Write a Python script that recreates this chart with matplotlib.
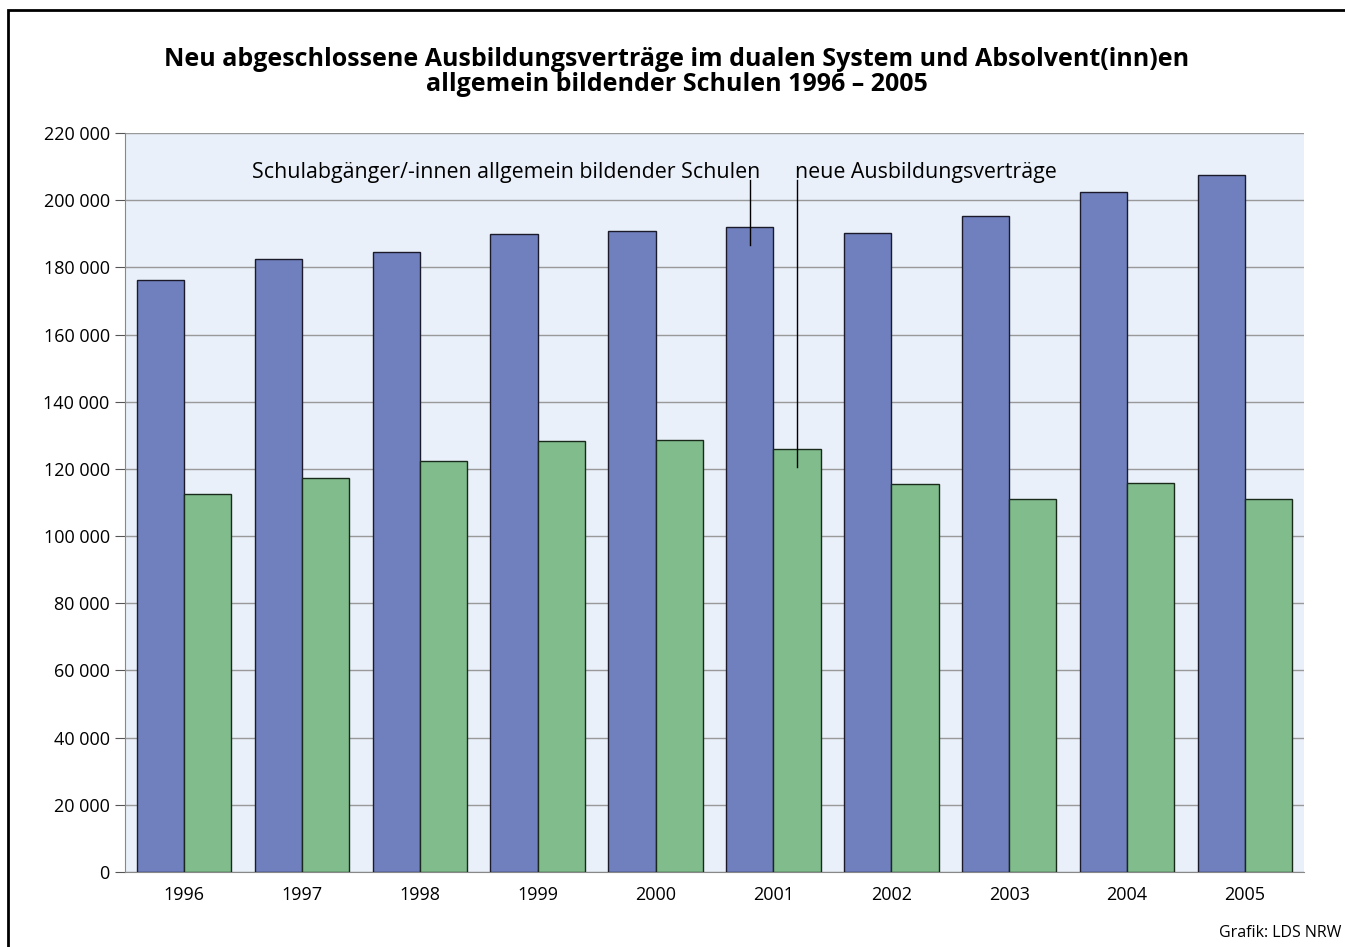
import numpy as np
import matplotlib.pyplot as plt
from matplotlib.patches import Rectangle

plt.rcParams['font.family'] = ['Open Sans', 'DejaVu Sans']

# data
years = ['1996', '1997', '1998', '1999', '2000', '2001', '2002', '2003', '2004', '2005']
schulabgaenger = [176200, 182600, 184600, 189900, 190800, 192000, 190200, 195300, 202400, 207500]
vertraege = [112500, 117300, 122400, 128300, 128600, 125900, 115500, 111000, 115800, 111000]

blue = '#7080BE'
green = '#80BC8C'

fig = plt.figure(figsize=(13.45, 9.47), dpi=100)
ax = fig.add_axes([125/1345, 1-872/947, (1304-125)/1345, (872-133)/947])
ax.set_facecolor('#E9F0F9')

x = np.arange(len(years))
w = 0.4
ax.bar(x - w/2, schulabgaenger, w, color=blue, edgecolor='#1a1a2a', linewidth=1, zorder=3)
ax.bar(x + w/2, vertraege, w, color=green, edgecolor='#1a2a1a', linewidth=1, zorder=3)

ax.set_xlim(-0.5, len(years) - 0.5)
ax.set_ylim(0, 220000)
ax.set_yticks(range(0, 220001, 20000))
ax.set_yticklabels(['0' if v == 0 else f'{v:,}'.replace(',', ' ') for v in range(0, 220001, 20000)])
ax.set_xticks(x)
ax.set_xticklabels(years)
ax.tick_params(axis='y', length=7, color='#555555', labelsize=13, pad=4)
ax.tick_params(axis='x', length=0, labelsize=13, pad=10)
ax.grid(axis='y', color='#999999', linewidth=1, zorder=1)
for s in ['top', 'right']:
    ax.spines[s].set_visible(False)
ax.spines['left'].set_color('#888888')
ax.spines['bottom'].set_color('#888888')

# annotations with leader lines into the 2001 bars
ax.text(x[5] - w/2 + 0.09, 208300, 'Schulabgänger/-innen allgemein bildender Schulen',
        ha='right', va='center', fontsize=15.4, zorder=4)
ax.plot([x[5] - w/2, x[5] - w/2], [206000, 186700], color='black', linewidth=1, zorder=4)
ax.text(x[5] + w/2 - 0.02, 208300, 'neue Ausbildungsverträge',
        ha='left', va='center', fontsize=15.4, zorder=4)
ax.plot([x[5] + w/2, x[5] + w/2], [206000, 120600], color='black', linewidth=1, zorder=4)

fig.text(0.503, 1-72/947, 'Neu abgeschlossene Ausbildungsverträge im dualen System und Absolvent(inn)en\nallgemein bildender Schulen 1996 – 2005',
         ha='center', va='center', fontsize=18, fontweight='bold', linespacing=1.0)
fig.text(1341/1345, 1-933/947, 'Grafik: LDS NRW', ha='right', va='center', fontsize=11.5)

# outer frame
fig.patches.append(Rectangle((8/1345, -0.01), 1.1, 1-10/947 + 0.01, transform=fig.transFigure,
                             fill=False, edgecolor='black', linewidth=2))

fig.savefig('out.png', dpi=100)
